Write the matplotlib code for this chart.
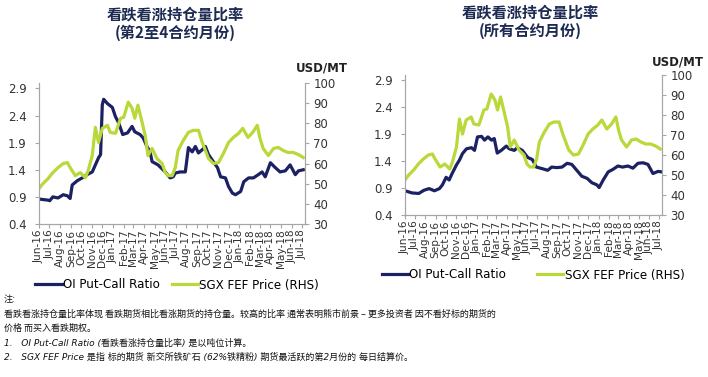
import matplotlib
matplotlib.use("Agg")
import matplotlib.pyplot as plt
import pandas as pd
from matplotlib.lines import Line2D

plt.rcParams['font.family'] = ['Noto Sans CJK SC', 'DejaVu Sans']

# ---------------- data ----------------
price_dates = ["2016-06-01","2016-06-12","2016-06-27","2016-07-11","2016-07-26","2016-08-10","2016-08-22","2016-08-30",
               "2016-09-14","2016-09-28","2016-10-13","2016-10-21","2016-11-02","2016-11-11","2016-11-20","2016-12-01",
               "2016-12-16","2016-12-24","2017-01-08","2017-01-23","2017-02-01","2017-02-14","2017-02-25","2017-03-05",
               "2017-03-14","2017-03-26","2017-04-04","2017-04-12","2017-04-24","2017-05-08","2017-05-23","2017-06-01",
               "2017-06-10","2017-06-21","2017-06-30","2017-07-08","2017-07-23","2017-08-07","2017-08-21","2017-09-05",
               "2017-09-16","2017-09-25","2017-10-04","2017-10-18","2017-11-02","2017-11-16","2017-12-01","2017-12-15",
               "2017-12-30","2018-01-11","2018-01-26","2018-02-09","2018-02-22","2018-03-02","2018-03-11","2018-03-26",
               "2018-04-10","2018-04-24","2018-05-08","2018-05-22","2018-06-06","2018-06-21","2018-07-05"]
price_values = [47.5,50,52.5,55.5,58,60,60.5,58,
                54,55.5,53,56.5,64,78,70.5,77.5,
                79,75.5,75,82.5,83,90.5,87.5,82.5,
                89,80.5,74,64,67.5,62.5,60,55.5,
                54,54,58,66.5,71.5,75.5,76.5,76.5,
                70.5,66.5,62.5,60,60.5,65,70.5,73,
                75,77.5,73,75.5,79,72.5,67.5,64,
                67.5,68,66.5,65.5,65.5,64.5,63]

ratio24_dates = ["2016-06-01","2016-06-27","2016-07-02","2016-07-11","2016-07-26","2016-08-10","2016-08-22","2016-08-30",
                 "2016-09-05","2016-09-20","2016-10-04","2016-10-18","2016-11-02","2016-11-11","2016-11-20","2016-11-26",
                 "2016-12-01","2016-12-05","2016-12-16","2016-12-30","2017-01-08","2017-01-17","2017-01-29","2017-02-12",
                 "2017-02-25","2017-03-05","2017-03-20","2017-03-29","2017-04-09","2017-04-18","2017-04-24","2017-05-11",
                 "2017-06-01","2017-06-15","2017-06-24","2017-06-30","2017-07-14","2017-07-29","2017-08-07","2017-08-18",
                 "2017-08-27","2017-09-05","2017-09-16","2017-09-25","2017-10-04","2017-10-18","2017-10-30","2017-11-08",
                 "2017-11-22","2017-12-01","2017-12-12","2017-12-21","2018-01-05","2018-01-14","2018-01-28","2018-02-11",
                 "2018-02-25","2018-03-08","2018-03-17","2018-04-01","2018-04-15","2018-04-29","2018-05-14","2018-05-28",
                 "2018-06-12","2018-06-21","2018-07-05"]
ratio24_values = [0.86,0.84,0.83,0.90,0.88,0.94,0.92,0.87,
                  1.12,1.20,1.25,1.31,1.36,1.49,1.62,1.68,
                  2.60,2.70,2.62,2.55,2.38,2.27,2.05,2.08,
                  2.20,2.10,2.05,1.99,1.83,1.73,1.55,1.49,
                  1.36,1.25,1.27,1.34,1.36,1.36,1.81,1.73,
                  1.83,1.71,1.77,1.83,1.68,1.55,1.44,1.27,
                  1.25,1.09,0.97,0.94,1.00,1.18,1.25,1.25,
                  1.31,1.36,1.27,1.53,1.44,1.36,1.38,1.49,
                  1.31,1.38,1.40]

ratio_all_dates = ["2016-06-01","2016-06-22","2016-07-12","2016-07-28","2016-08-12","2016-08-28","2016-09-12","2016-09-21",
                   "2016-10-02","2016-10-11","2016-10-20","2016-11-02","2016-11-11","2016-11-20","2016-12-02","2016-12-17",
                   "2016-12-26","2017-01-04","2017-01-16","2017-01-25","2017-02-04","2017-02-15","2017-02-23","2017-03-04",
                   "2017-03-16","2017-03-31","2017-04-09","2017-04-24","2017-05-03","2017-05-18","2017-06-03","2017-06-17",
                   "2017-06-29","2017-07-17","2017-08-02","2017-08-14","2017-08-29","2017-09-14","2017-09-29","2017-10-13",
                   "2017-10-28","2017-11-12","2017-11-28","2017-12-12","2017-12-27","2018-01-03","2018-01-15","2018-01-30",
                   "2018-02-14","2018-02-28","2018-03-14","2018-03-30","2018-04-14","2018-04-29","2018-05-14","2018-05-29",
                   "2018-06-13","2018-06-28","2018-07-10"]
ratio_all_values = [0.85,0.81,0.80,0.86,0.89,0.85,0.89,0.96,
                    1.10,1.05,1.17,1.33,1.42,1.54,1.63,1.65,
                    1.60,1.85,1.86,1.79,1.85,1.79,1.82,1.55,
                    1.60,1.68,1.63,1.60,1.65,1.60,1.47,1.43,
                    1.29,1.26,1.23,1.29,1.28,1.29,1.36,1.34,
                    1.23,1.12,1.08,1.00,0.96,0.91,1.05,1.20,
                    1.25,1.31,1.29,1.31,1.27,1.36,1.37,1.34,
                    1.17,1.21,1.20]

month_labels = ["Jun-16","Jul-16","Aug-16","Sep-16","Oct-16","Nov-16","Dec-16","Jan-17","Feb-17","Mar-17",
                "Apr-17","May-17","Jun-17","Jul-17","Aug-17","Sep-17","Oct-17","Nov-17","Dec-17","Jan-18",
                "Feb-18","Mar-18","Apr-18","May-18","Jun-18","Jul-18"]

titles = ["看跌看涨持仓量比率\n(第2至4合约月份)", "看跌看涨持仓量比率\n(所有合约月份)"]
legend_labels = ["OI Put-Call Ratio", "SGX FEF Price (RHS)"]

notes = ["注:",
         "看跌看涨持仓量比率体现 看跌期货相比看涨期货的持仓量。较高的比率 通常表明熊市前景 – 更多投资者 因不看好标的期货的",
         "价格 而买入看跌期权。",
         "1.   OI Put-Call Ratio (看跌看涨持仓量比率) 是以吨位计算。",
         "2.   SGX FEF Price 是指 标的期货 新交所铁矿石 (62%铁精粉) 期货最活跃的第2月份的 每日结算价。"]

# ---------------- style ----------------
BLUE = "#1b2163"
GREEN = "#b9d83a"
GRAY = "#a6a6a6"
TXT = "#333333"
TITLE_C = "#1d2a52"

W, H = 708, 377
fig = plt.figure(figsize=(W/100, H/100), dpi=100)

def px_rect(x0, x1, ytop, ybot):
    return [x0/W, (H-ybot)/H, (x1-x0)/W, (ybot-ytop)/H]

panels = [
    dict(rect=px_rect(39, 305, 83, 224), ratio=(ratio24_dates, ratio24_values),
         title_xy=(175, 6), usd_xy=(322, 68), leg_xy=(177, 285), colsp=1.0),
    dict(rect=px_rect(405, 662, 75, 215), ratio=(ratio_all_dates, ratio_all_values),
         title_xy=(530, 4), usd_xy=(678, 62), leg_xy=(533, 275), colsp=2.6),
]

xmin = pd.Timestamp("2016-06-01")
xmax = pd.Timestamp("2018-07-10")
ticks = pd.date_range("2016-06-01", "2018-07-01", freq="MS")

for i, p in enumerate(panels):
    ax = fig.add_axes(p["rect"])
    ax2 = ax.twinx()
    d, v = p["ratio"]
    ax.plot(pd.to_datetime(d), v, color=BLUE, lw=2.3, solid_joinstyle="round")
    ax2.plot(pd.to_datetime(price_dates), price_values, color=GREEN, lw=2.3, solid_joinstyle="round")

    ax.set_xlim(xmin, xmax)
    ax.set_ylim(0.4, 3.0)
    ax2.set_ylim(30, 100)
    ax.set_yticks([0.4, 0.9, 1.4, 1.9, 2.4, 2.9])
    ax.set_yticklabels(["0.4", "0.9", "1.4", "1.9", "2.4", "2.9"])
    ax2.set_yticks(range(30, 101, 10))
    ax.set_xticks(ticks)
    ax.set_xticklabels(month_labels, rotation=90, fontsize=7.6, color=TXT, family="DejaVu Sans")

    for a in (ax, ax2):
        a.spines["top"].set_visible(False)
        for s in ("left", "right", "bottom"):
            a.spines[s].set_color(GRAY)
            a.spines[s].set_linewidth(0.8)
        a.tick_params(colors=GRAY, labelcolor=TXT, length=3, width=0.8)
    ax.tick_params(axis="y", labelsize=8.5, pad=6)
    ax2.tick_params(axis="y", labelsize=8.5, pad=3)
    ax.tick_params(axis="x", pad=1)
    for lab in ax.get_yticklabels() + ax2.get_yticklabels():
        lab.set_family("DejaVu Sans")

    tx, ty = p["title_xy"]
    fig.text(tx/W, 1 - ty/H, titles[i], ha="center", va="top", fontsize=11,
             fontweight="bold", color=TITLE_C, linespacing=1.2)
    ux, uy = p["usd_xy"]
    fig.text(ux/W, 1 - uy/H, "USD/MT", ha="center", va="center", fontsize=8.5,
             fontweight="bold", color="#222222", family="DejaVu Sans")

    handles = [Line2D([], [], color=BLUE, lw=2.3), Line2D([], [], color=GREEN, lw=2.3)]
    lx, ly = p["leg_xy"]
    fig.legend(handles, legend_labels, loc="center", bbox_to_anchor=(lx/W, 1 - ly/H),
               ncol=2, frameon=False, handlelength=2.2, handletextpad=0.1,
               columnspacing=p["colsp"], prop={"family": "DejaVu Sans", "size": 8.6})

# notes
note_y = [300, 314, 328, 343, 357]
for j, (t, y) in enumerate(zip(notes, note_y)):
    style = "italic" if j in (0, 3, 4) else "normal"
    fam = ["DejaVu Sans", "Noto Sans CJK SC"] if style == "italic" else ["Noto Sans CJK SC", "DejaVu Sans"]
    fig.text(4/W, 1 - y/H, t, ha="left", va="center", fontsize=6.5, color="#111111",
             style=style, family=fam)

fig.savefig("out.png", dpi=100)
